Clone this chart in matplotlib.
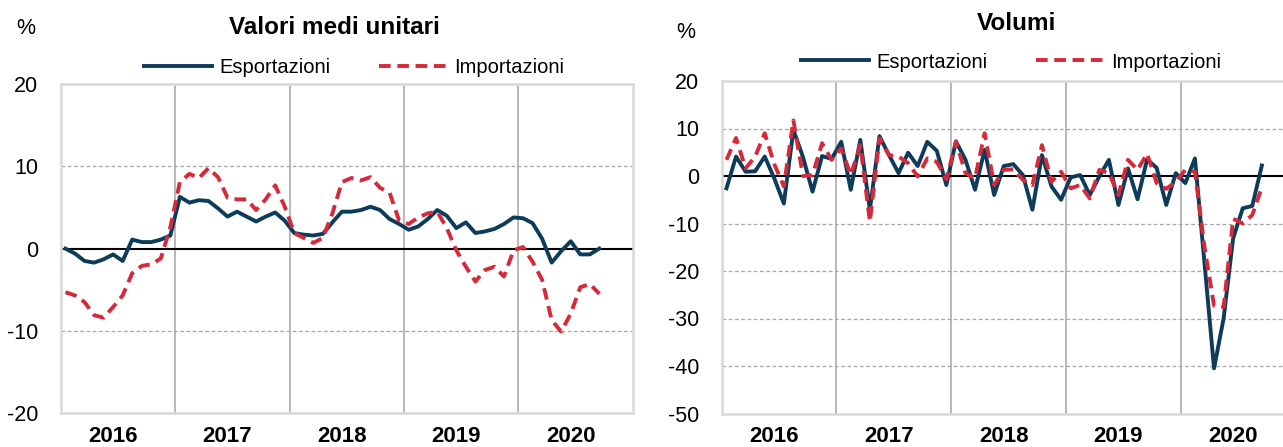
import numpy as np
import matplotlib
matplotlib.use('Agg')
import matplotlib.pyplot as plt
import matplotlib.transforms as mtransforms

plt.rcParams['font.family'] = ['Liberation Sans Narrow', 'Liberation Sans', 'DejaVu Sans']

years = ['2016', '2017', '2018', '2019', '2020']

# valori medi unitari, var. % tendenziali, gen 2016 - set 2020
vmu_exp = [0.0, -0.6, -1.5, -1.7, -1.3, -0.7, -1.5, 1.1, 0.8, 0.8, 1.1, 1.6,
           6.3, 5.6, 5.9, 5.8, 4.9, 3.9, 4.5, 3.9, 3.3, 3.9, 4.4, 3.4,
           1.9, 1.7, 1.6, 1.8, 3.2, 4.5, 4.5, 4.7, 5.1, 4.7, 3.6, 3.0,
           2.3, 2.7, 3.6, 4.7, 4.0, 2.5, 3.2, 1.9, 2.1, 2.4, 3.0, 3.8,
           3.7, 3.1, 1.2, -1.7, -0.3, 0.9, -0.7, -0.7, 0.0]
vmu_imp = [-5.3, -5.7, -6.5, -8.1, -8.4, -7.1, -5.7, -3.0, -2.1, -1.9, -1.2, 2.6,
           8.1, 9.1, 8.6, 9.8, 8.7, 6.2, 6.0, 6.0, 4.7, 6.0, 7.7, 5.1,
           1.9, 1.3, 0.7, 1.3, 4.3, 8.1, 8.6, 8.3, 8.7, 7.4, 6.8, 3.4,
           3.0, 3.8, 4.3, 4.5, 2.5, -0.2, -2.2, -4.0, -2.6, -2.2, -3.4, -0.2,
           0.2, -1.6, -3.8, -8.7, -10.1, -7.9, -4.7, -4.3, -5.5]

# volumi
vol_exp = [-2.6, 4.1, 0.9, 1.0, 4.1, -0.5, -5.8, 9.7, 4.0, -3.3, 4.2, 3.6,
           7.2, -2.9, 7.6, -7.1, 8.4, 4.4, 0.6, 4.9, 2.1, 7.2, 5.3, -1.9,
           7.3, 3.4, -2.9, 5.5, -4.0, 2.1, 2.5, 0.2, -7.1, 4.4, -2.2, -5.0,
           -0.3, 0.2, -4.0, -0.1, 3.4, -6.1, 1.6, -4.9, 3.5, 1.7, -6.1, 0.6,
           -1.5, 3.7, -18.3, -40.5, -30.0, -13.1, -6.8, -6.3, 2.2]
vol_imp = [3.4, 8.0, 1.6, 4.1, 9.0, 2.5, -2.2, 11.7, 0.0, 0.2, 6.9, 3.4,
           5.8, 0.2, 6.5, -9.6, 7.9, 4.4, 4.1, 2.7, -0.1, 3.7, 3.0, -0.7,
           7.2, 0.6, -0.5, 9.0, -1.9, 1.3, 1.4, -0.8, -1.9, 6.5, -1.2, 0.9,
           -2.6, -1.9, -4.7, 1.3, 0.6, -4.0, 3.4, 1.3, 4.7, -1.5, -2.7, -1.2,
           1.3, 0.9, -14.9, -27.3, -27.6, -9.0, -10.0, -8.2, -2.4]

navy = '#0d3c5b'
red = '#d62a3a'
fts = 15.5

fig = plt.figure(figsize=(12.83, 4.47), dpi=100)
W, H = 1283., 447.


def px_axes(x0, x1, ytop, ybot):
    return fig.add_axes([x0 / W, 1 - ybot / H, (x1 - x0) / W, (ybot - ytop) / H])


def draw_panel(ax, exp, imp, ylim, yticks):
    x = np.arange(len(exp)) + 0.5
    ax.set_xlim(0, 60)
    ax.set_ylim(*ylim)
    for v in yticks:
        if v == 0 or v in ylim:
            continue
        ax.axhline(v, color='#a6a6a6', lw=0.9, ls=(0, (3, 2)), zorder=1)
    for k in range(1, 5):
        ax.axvline(12 * k, color='#a6a6a6', lw=1.1, zorder=1)
    ax.axhline(0, color='black', lw=1.5, zorder=2)
    ax.plot(x, exp, color=navy, lw=2.8, zorder=3, solid_joinstyle='round')
    ax.plot(x, imp, color=red, lw=2.8, ls=(0, (3.0, 1.7)), zorder=4)
    ax.set_yticks(yticks)
    ax.set_yticklabels(['%d' % v for v in yticks])
    ax.set_xticks([])
    ax.tick_params(axis='y', length=0, pad=16, labelsize=fts)
    for s in ax.spines.values():
        s.set_color('#d9d9d9')
        s.set_linewidth(1.8)
    trans = mtransforms.blended_transform_factory(ax.transData, fig.transFigure)
    for k, yr in enumerate(years):
        ax.text(12 * k + 5.5, 1 - 437 / H, yr, transform=trans, ha='center', va='center',
                fontsize=16, fontweight='bold', clip_on=False)


ax1 = px_axes(60.7, 632.7, 84.3, 413)
draw_panel(ax1, vmu_exp, vmu_imp, (-20, 20), [-20, -10, 0, 10, 20])

ax2 = px_axes(721.7, 1295.3, 81, 413.5)
draw_panel(ax2, vol_exp, vol_imp, (-50, 20), [-50, -40, -30, -20, -10, 0, 10, 20])

fig.text(334 / W, 1 - 28 / H, 'Valori medi unitari', ha='center', va='center', fontsize=17.5, fontweight='bold')
fig.text(1017 / W, 1 - 24 / H, 'Volumi', ha='center', va='center', fontsize=17.5, fontweight='bold')
fig.text(26 / W, 1 - 29 / H, '%', ha='center', va='center', fontsize=fts)
fig.text(686 / W, 1 - 33 / H, '%', ha='center', va='center', fontsize=fts)

for ax, cx, cy in [(ax1, 354, 67.5), (ax2, 1011, 62)]:
    lines = [l for l in ax.get_lines() if l.get_color() in (navy, red)]
    fig.legend(lines, ['Esportazioni', 'Importazioni'], loc='center',
               bbox_to_anchor=(cx / W, 1 - cy / H), ncol=2, frameon=False,
               fontsize=14.5, handlelength=3.4, handletextpad=0.35, columnspacing=2.4,
               borderpad=0, borderaxespad=0)

fig.savefig('out.png', dpi=100)
